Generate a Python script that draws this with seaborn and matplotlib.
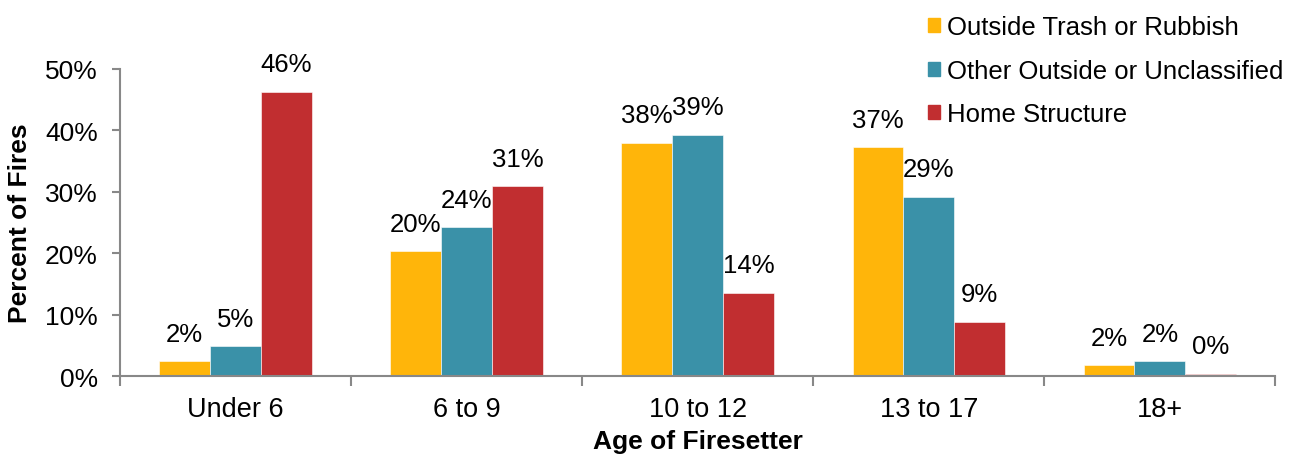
import pandas as pd
import matplotlib.pyplot as plt
import seaborn as sns

# Firesetter age data (percent of fires)
ages = ['Under 6', '6 to 9', '10 to 12', '13 to 17', '18+']
trash = [2.4, 20.4, 38.0, 37.3, 1.8]
outside = [4.9, 24.3, 39.3, 29.2, 2.4]
home = [46.3, 30.9, 13.6, 8.9, 0.4]
series = ['Outside Trash or Rubbish', 'Other Outside or Unclassified', 'Home Structure']
colors = ['#FFB50A', '#3A91A8', '#C12E30']

df = pd.DataFrame({'age': ages, series[0]: trash, series[1]: outside, series[2]: home})
long = df.melt(id_vars='age', var_name='type', value_name='pct')

sns.set_style('white')
plt.rcParams['font.family'] = ['Liberation Sans', 'DejaVu Sans']
plt.rcParams['text.color'] = 'black'
plt.rcParams['axes.labelcolor'] = 'black'
plt.rcParams['xtick.color'] = 'black'
plt.rcParams['ytick.color'] = 'black'

fig = plt.figure(figsize=(13.1, 4.6), dpi=100)
ax = fig.add_axes([0.0916, 0.180, 0.882, 0.668])
sns.barplot(data=long, x='age', y='pct', hue='type', order=ages, hue_order=series,
            palette=colors, width=0.66, saturation=1, ax=ax, legend=False,
            edgecolor='white', linewidth=0.4)

for cont in ax.containers:
    ax.bar_label(cont, fmt='%.0f%%', padding=11, fontsize=18.5)

ax.set_ylim(0, 50)
ax.set_xlim(-0.5, 4.5)
ax.set_yticks(range(0, 51, 10))
ax.set_yticklabels([f'{v}%' for v in range(0, 51, 10)], fontsize=19)
ax.set_xticks(range(len(ages)))
ax.set_xticklabels(ages, fontsize=19.5)
ax.set_xticks([i - 0.5 for i in range(len(ages) + 1)], minor=True)
ax.tick_params(axis='x', which='major', bottom=False, length=0, pad=14)
ax.tick_params(axis='x', which='minor', bottom=True, length=7, color='#888888',
               width=1.5, direction='out')
ax.tick_params(axis='y', left=True, length=6, color='#888888', width=1.5,
               direction='out', pad=10, labelcolor='black')

for s in ['top', 'right']:
    ax.spines[s].set_visible(False)
for s in ['left', 'bottom']:
    ax.spines[s].set_color('#888888')
    ax.spines[s].set_linewidth(1.5)

ax.set_xlabel('Age of Firesetter', fontsize=19, fontweight='bold', labelpad=5)
ax.set_ylabel('Percent of Fires', fontsize=19, fontweight='bold', labelpad=9)

handles = [plt.Rectangle((0, 0), 1, 1, color=c) for c in colors]
fig.legend(handles, series, loc='upper left', bbox_to_anchor=(0.691, 1.015),
           frameon=False, fontsize=18.5, handlelength=0.47, handleheight=0.47,
           handletextpad=0.25, labelspacing=0.76)

fig.savefig('out.png', dpi=100)
